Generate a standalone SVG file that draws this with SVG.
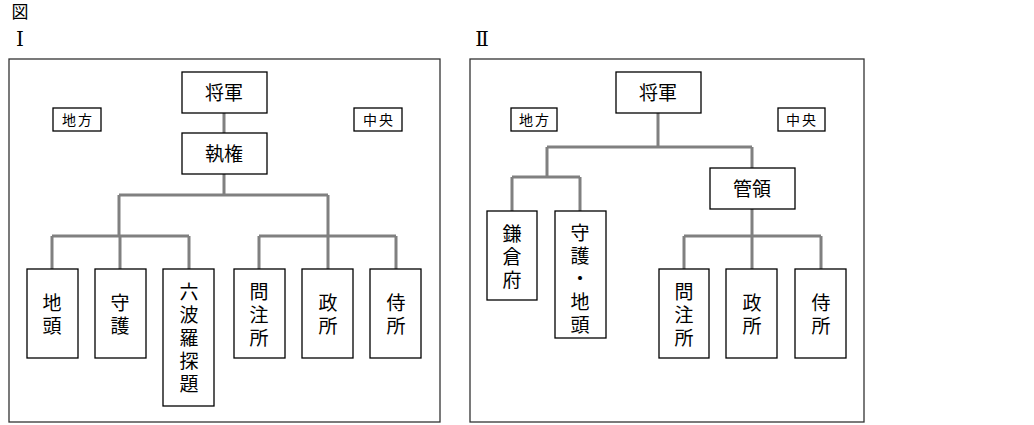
<svg xmlns="http://www.w3.org/2000/svg" width="1034" height="425" viewBox="0 0 1034 425">
<style>
text{font-family:"Noto Sans CJK JP","Noto Sans CJK SC",sans-serif;fill:#000;text-anchor:middle}
.f{fill:#fff;stroke:#333;stroke-width:1.3}
.b{fill:#fff;stroke:#000;stroke-width:1.3}
.c{fill:none;stroke:#808080;stroke-width:3}
.t{font-size:19px}
.s{font-size:14px;letter-spacing:2px}
.r{font-family:"DejaVu Serif","Liberation Serif","Noto Sans CJK JP",serif;font-size:20px}
</style>
<rect width="1034" height="425" fill="#fff"/>
<text x="20" y="18" style="font-size:17px">図</text>
<text class="r" x="20" y="46">Ⅰ</text>
<text class="r" x="482" y="46">Ⅱ</text>
<rect class="f" x="9" y="59" width="431" height="363"/>
<rect class="f" x="470" y="59" width="394" height="363"/>
<g id="connectors">
<path class="c" d="M224 113V133M224 174V195M119 195H328M119 195V236M328 195V236M52 236H189M52 236V269M120 236V269M189 236V269M259 236H396M259 236V269M328 236V269M396 236V269"/>
<path class="c" d="M658 113V147M547 147H752M752 147V168M547 147V177M512 177H580M512 177V211M580 177V211M752 209V236M684 236H821M684 236V269M752 236V269M821 236V269"/>
</g>
<g id="n1"><rect class="b" x="182" y="72" width="85" height="41"/><text class="t" x="224" y="100">将軍</text></g>
<g id="n2"><rect class="b" x="182" y="133" width="85" height="41"/><text class="t" x="224" y="161">執権</text></g>
<g id="n3"><rect class="b" x="53" y="108" width="48" height="23"/><text class="s" x="78" y="125">地方</text></g>
<g id="n4"><rect class="b" x="354" y="108" width="48" height="23"/><text class="s" x="379" y="125">中央</text></g>
<g id="n5"><rect class="b" x="27" y="269" width="51" height="89"/><text class="t" x="52" y="310">地</text><text class="t" x="52" y="333">頭</text></g>
<g id="n6"><rect class="b" x="95" y="269" width="51" height="89"/><text class="t" x="120" y="310">守</text><text class="t" x="120" y="333">護</text></g>
<g id="n7"><rect class="b" x="163" y="269" width="51" height="137"/><text class="t" x="189" y="299">六</text><text class="t" x="189" y="322">波</text><text class="t" x="189" y="345">羅</text><text class="t" x="189" y="368">探</text><text class="t" x="189" y="391">題</text></g>
<g id="n8"><rect class="b" x="234" y="269" width="51" height="89"/><text class="t" x="259" y="299">問</text><text class="t" x="259" y="322">注</text><text class="t" x="259" y="345">所</text></g>
<g id="n9"><rect class="b" x="302" y="269" width="51" height="89"/><text class="t" x="328" y="310">政</text><text class="t" x="328" y="333">所</text></g>
<g id="n10"><rect class="b" x="370" y="269" width="51" height="89"/><text class="t" x="396" y="310">侍</text><text class="t" x="396" y="333">所</text></g>
<g id="m1"><rect class="b" x="616" y="72" width="85" height="41"/><text class="t" x="658" y="100">将軍</text></g>
<g id="m2"><rect class="b" x="511" y="108" width="46" height="23"/><text class="s" x="535" y="125">地方</text></g>
<g id="m3"><rect class="b" x="778" y="108" width="47" height="23"/><text class="s" x="802" y="125">中央</text></g>
<g id="m4"><rect class="b" x="710" y="168" width="85" height="41"/><text class="t" x="752" y="196">管領</text></g>
<g id="m5"><rect class="b" x="487" y="211" width="50" height="89"/><text class="t" x="512" y="241">鎌</text><text class="t" x="512" y="264">倉</text><text class="t" x="512" y="287">府</text></g>
<g id="m6"><rect class="b" x="555" y="211" width="51" height="127"/><text class="t" x="580" y="240">守</text><text class="t" x="580" y="263">護</text><text class="t" x="580" y="286">・</text><text class="t" x="580" y="309">地</text><text class="t" x="580" y="332">頭</text></g>
<g id="m7"><rect class="b" x="659" y="269" width="50" height="89"/><text class="t" x="684" y="299">問</text><text class="t" x="684" y="322">注</text><text class="t" x="684" y="345">所</text></g>
<g id="m8"><rect class="b" x="726" y="269" width="51" height="89"/><text class="t" x="752" y="310">政</text><text class="t" x="752" y="333">所</text></g>
<g id="m9"><rect class="b" x="795" y="269" width="51" height="89"/><text class="t" x="821" y="310">侍</text><text class="t" x="821" y="333">所</text></g>
</svg>
